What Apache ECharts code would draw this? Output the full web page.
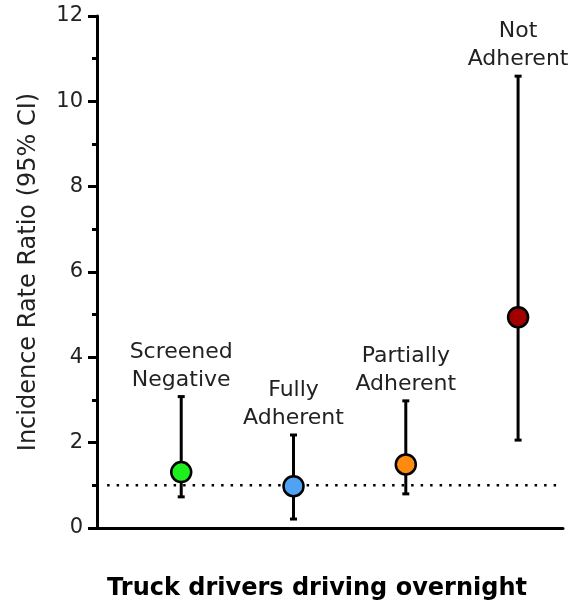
<!DOCTYPE html>
<html>
<head>
<meta charset="utf-8">
<script src="https://cdn.jsdelivr.net/npm/echarts@6/dist/echarts.min.js"></script>
<style>
html,body{margin:0;padding:0;background:#fff;}
#chart{width:573px;height:600px;}
</style>
</head>
<body>
<div id="chart"></div>
<script>
const categories = ['Screened\nNegative', 'Fully\nAdherent', 'Partially\nAdherent', 'Not\nAdherent'];
const positions = [1, 2, 3, 4];
const estimates = [1.31, 0.98, 1.49, 4.94];
const lowerCI = [0.73, 0.21, 0.80, 2.06];
const upperCI = [3.08, 2.18, 2.98, 10.59];
const pointColors = ['#1ef01e', '#4fa3f2', '#ff8a10', '#a00000'];
const yTicks = [0, 2, 4, 6, 8, 10, 12];
const referenceValue = 1;
const referenceSpan = [0.34, 4.4];

const FONT = 'DejaVu Sans';
const chart = echarts.init(document.getElementById('chart'), null, {renderer: 'canvas'});

const option = {
  animation: false,
  backgroundColor: '#fff',
  title: {
    text: 'Truck drivers driving overnight',
    left: 312,
    textAlign: 'center',
    top: 572,
    textStyle: {fontFamily: FONT, fontWeight: 'bold', fontSize: 24, color: '#000'}
  },
  grid: {left: 97, right: 10, top: 16, bottom: 72},
  xAxis: {
    type: 'value',
    min: 0.25,
    max: 4.4,
    axisLine: {show: true, onZero: false, lineStyle: {color: '#000', width: 3}},
    axisTick: {show: false},
    axisLabel: {show: false},
    splitLine: {show: false}
  },
  yAxis: {
    type: 'value',
    min: yTicks[0],
    max: yTicks[yTicks.length - 1],
    interval: 2,
    name: 'Incidence Rate Ratio (95% CI)',
    nameLocation: 'middle',
    nameGap: 56,
    nameTextStyle: {fontFamily: FONT, fontSize: 24, color: '#222'},
    axisLine: {show: true, lineStyle: {color: '#000', width: 3}},
    axisTick: {show: true, length: 9, lineStyle: {color: '#000', width: 3}},
    minorTick: {show: true, splitNumber: 2, length: 5, lineStyle: {color: '#000', width: 3}},
    axisLabel: {fontFamily: FONT, fontSize: 21, color: '#222', margin: 14},
    splitLine: {show: false}
  },
  series: [
    {
      type: 'line',
      data: referenceSpan.map(x => [x, referenceValue]),
      symbol: 'none',
      lineStyle: {color: '#000', width: 2.5, type: [2.5, 7]},
      z: 1,
      silent: true
    },
    {
      type: 'custom',
      z: 2,
      data: positions.map((x, i) => [x, lowerCI[i], upperCI[i]]),
      renderItem: function (params, api) {
        const x = api.value(0);
        const lo = api.coord([x, api.value(1)]);
        const hi = api.coord([x, api.value(2)]);
        const half = 3.5;
        const style = {stroke: '#000', lineWidth: 3};
        return {
          type: 'group',
          children: [
            {type: 'line', shape: {x1: lo[0], y1: lo[1], x2: hi[0], y2: hi[1]}, style: style},
            {type: 'line', shape: {x1: lo[0] - half, y1: lo[1], x2: lo[0] + half, y2: lo[1]}, style: style},
            {type: 'line', shape: {x1: hi[0] - half, y1: hi[1], x2: hi[0] + half, y2: hi[1]}, style: style}
          ]
        };
      }
    },
    {
      type: 'scatter',
      z: 3,
      symbol: 'circle',
      symbolSize: 20,
      data: positions.map((x, i) => ({
        value: [x, estimates[i]],
        itemStyle: {color: pointColors[i], borderColor: '#000', borderWidth: 2.5, opacity: 1}
      }))
    },
    {
      type: 'scatter',
      z: 4,
      symbol: 'circle',
      symbolSize: 1,
      itemStyle: {color: 'rgba(0,0,0,0)', opacity: 1},
      data: positions.map((x, i) => ({
        value: [x, upperCI[i]],
        label: {
          show: true,
          position: 'top',
          distance: 2,
          formatter: categories[i],
          fontFamily: FONT,
          fontSize: 22,
          lineHeight: 28,
          color: '#222',
          align: 'center'
        }
      }))
    }
  ]
};
chart.setOption(option);
</script>
</body>
</html>
